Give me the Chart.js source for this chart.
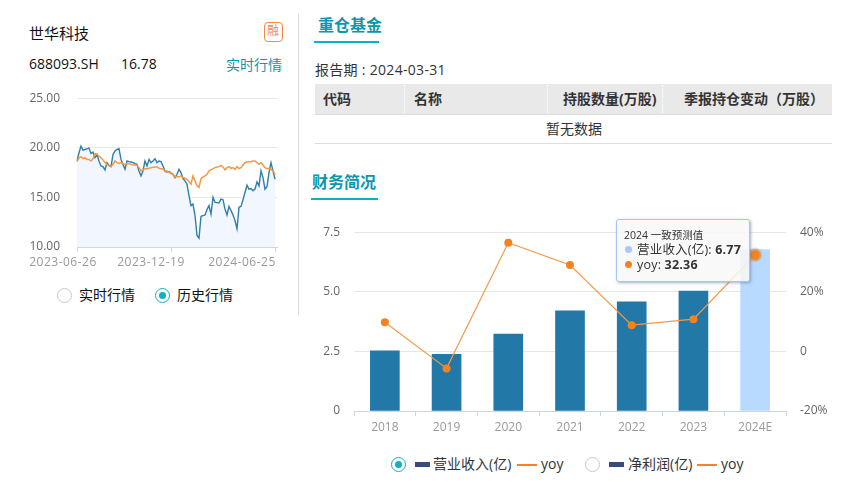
<!DOCTYPE html>
<html>
<head>
<meta charset="utf-8">
<script src="https://cdn.jsdelivr.net/npm/chart.js@4/dist/chart.umd.min.js"></script>
<style>
  html, body { margin: 0; padding: 0; background: #fff; }
  body { width: 842px; height: 483px; overflow: hidden; position: relative; font-family: "Open Sans", "Noto Sans CJK SC", sans-serif; color: #222; }
  .t { position: absolute; white-space: nowrap; line-height: 20px; font-size: 14px; }
  .b { position: absolute; }
  canvas { position: absolute; }
  .radio { position: absolute; width: 13px; height: 13px; border: 1px solid #c9c9c9; border-radius: 50%; background: #fff; }
  .radio.on { border-color: #0fb0c6; }
  .radio.on::after { content: ""; position: absolute; left: 3px; top: 3px; width: 7px; height: 7px; border-radius: 50%; background: #0fb0c6; }
  .head { font-size: 16px; font-weight: 700; color: #0a97ab; }
  .th { font-size: 14px; font-weight: 700; color: #333; top: 89px; }
  #tip { position: absolute; left: 616px; top: 219px; width: 134px; height: 63px; box-sizing: border-box; background: rgba(248,248,248,0.86); border: 1px solid #a9c5ee; border-radius: 3px; box-shadow: 1px 1px 3px rgba(90,110,150,.55); }
</style>
</head>
<body>
<div class="b" style="left:298px;top:14px;width:1px;height:301px;background:#ddd"></div>

<div class="t" style="left:29px;top:23px;font-size:15px;color:#111">世华科技</div>
<div class="b" style="left:264px;top:22px;width:17px;height:18px;border:1px solid #f58a3c;border-radius:4px"></div>
<div class="t" style="left:267px;top:21px;font-size:12px;color:#f0885a">融</div>
<div class="t" style="left:29px;top:54px;color:#111">688093.SH</div>
<div class="t" style="left:121px;top:54px;color:#111">16.78</div>
<div class="t" style="left:226px;top:55px;color:#0f96ad">实时行情</div>

<canvas id="chart-price" style="left:0;top:74px;width:298px;height:201px"></canvas>

<div class="radio" style="left:57px;top:288px"></div>
<div class="t" style="left:79px;top:285px;color:#111">实时行情</div>
<div class="radio on" style="left:155px;top:288px"></div>
<div class="t" style="left:177px;top:285px;color:#111">历史行情</div>

<div class="t head" style="left:318px;top:15px">重仓基金</div>
<div class="b" style="left:313px;top:42px;width:68px;height:1px;background:#ddd"></div>
<div class="b" style="left:314px;top:41px;width:65px;height:2px;background:#0fb0c6"></div>
<div class="t" style="left:315px;top:60px;color:#333;letter-spacing:.3px">报告期 : 2024-03-31</div>
<div class="b" style="left:315px;top:84px;width:517px;height:30px;background:#e9e9e9;border-bottom:1px solid #ddd"></div>
<div class="b" style="left:404px;top:85px;height:28px;border-left:1px dotted #fff"></div>
<div class="b" style="left:547px;top:85px;height:28px;border-left:1px dotted #fff"></div>
<div class="b" style="left:662px;top:85px;height:28px;border-left:1px dotted #fff"></div>
<div class="t th" style="left:323px">代码</div>
<div class="t th" style="left:414px">名称</div>
<div class="t th" style="left:563px">持股数量(万股)</div>
<div class="t th" style="left:684px">季报持仓变动（万股）</div>
<div class="t" style="left:546px;top:119px;color:#333">暂无数据</div>
<div class="b" style="left:315px;top:143px;width:517px;height:1px;background:#ddd"></div>

<div class="t head" style="left:312px;top:172px">财务简况</div>
<div class="b" style="left:311px;top:199px;width:69px;height:1px;background:#ddd"></div>
<div class="b" style="left:311px;top:198px;width:67px;height:2px;background:#0fb0c6"></div>

<canvas id="chart-fin" style="left:300px;top:211px;width:542px;height:229px"></canvas>

<div id="tip"></div>
<div class="t" style="left:624px;top:225px;font-size:10.5px;color:#333">2024 一致预测值</div>
<div class="b" style="left:625px;top:246px;width:7px;height:7px;border-radius:50%;background:#a6c8fb"></div>
<div class="t" style="left:637px;top:240px;font-size:12.5px;letter-spacing:.2px;color:#333">营业收入(亿): <b>6.77</b></div>
<div class="b" style="left:625px;top:261px;width:7px;height:7px;border-radius:50%;background:#f58220"></div>
<div class="t" style="left:637px;top:255px;font-size:12.5px;letter-spacing:.2px;color:#333">yoy: <b>32.36</b></div>

<div class="radio on" style="left:391px;top:457px"></div>
<div class="b" style="left:415px;top:462px;width:15px;height:5px;background:#3a4a80"></div>
<div class="t" style="left:433px;top:454px;color:#333">营业收入(亿)</div>
<div class="b" style="left:517px;top:464px;width:20px;height:2px;background:#f5822a"></div>
<div class="t" style="left:541px;top:454px;color:#333">yoy</div>
<div class="radio" style="left:585px;top:457px"></div>
<div class="b" style="left:609px;top:462px;width:15px;height:5px;background:#3a4a80"></div>
<div class="t" style="left:628px;top:454px;color:#333">净利润(亿)</div>
<div class="b" style="left:697px;top:464px;width:20px;height:2px;background:#f5822a"></div>
<div class="t" style="left:721px;top:454px;color:#333">yoy</div>

<script>
// ── DATA ────────────────────────────────────────────────────────────────────
const priceTicks = [25, 20, 15, 10];
const dateTickIndex = [0, 47, 99];
const dateTickLabels = ['2023-06-26', '2023-12-19', '2024-06-25'];
const stockPrice = [
  18.67, 19.5, 20.17, 19.77, 19.83, 19.9, 19.97, 19.43, 19.57, 19.0,
  19.33, 18.67, 18.17, 18.1, 17.77, 18.5, 18.23, 18.1, 19.33, 19.67,
  19.83, 19.9, 18.83, 18.33, 17.83, 18.67, 18.6, 18.57, 18.5, 18.4,
  18.33, 17.67, 17.17, 17.67, 18.67, 18.17, 18.83, 18.5, 18.67, 18.9,
  18.5, 18.67, 18.6, 18.17, 17.67, 17.57, 17.6, 17.43, 17.33, 17.0,
  17.33, 17.83, 17.5, 16.9, 16.67, 16.33, 15.17, 14.17, 14.33, 13.17,
  11.17, 10.9, 13.1, 13.17, 13.23, 13.77, 14.17, 13.33, 15.0, 14.5,
  14.47, 14.43, 14.83, 14.77, 13.83, 13.23, 14.1, 13.67, 13.23, 12.67,
  11.83, 14.0, 14.1, 14.77, 15.5, 16.23, 15.83, 15.9, 15.67, 15.83,
  16.57, 16.17, 17.67, 17.0, 15.83, 16.1, 17.5, 18.5, 17.67, 16.83
];
const indexPrice = [
  18.6, 19, 19.1, 18.9, 19, 18.83, 18.83, 18.67, 18.9, 19.43,
  19.33, 19.17, 19, 18.77, 18.5, 18.33, 18.17, 18.1, 18.33, 18.67,
  18.5, 18.43, 18.5, 18.4, 18.33, 18.4, 18.4, 18.33, 18.27, 18.27,
  18.23, 18, 17.67, 17.77, 17.9, 17.9, 17.93, 18, 18.03, 18.07,
  18.07, 17.93, 17.9, 17.9, 17.6, 17.67, 17.5, 17.5, 17.33, 17.07,
  17.07, 17.07, 17.17, 17, 16.93, 16.83, 16.57, 16.33, 17.17, 16.67,
  16.17, 16, 16.9, 17.07, 17.17, 17.33, 17.67, 17.77, 17.9, 18,
  18.07, 18.1, 18.23, 18.07, 17.77, 18, 18.1, 17.93, 18, 17.83,
  18.1, 17.9, 18, 18.27, 18.5, 18.57, 18.6, 18.6, 18.67, 18.67,
  18.5, 18.33, 18.5, 18.27, 18, 17.9, 17.93, 17.83, 17.67, 17.33
];

const years = ['2018', '2019', '2020', '2021', '2022', '2023', '2024E'];
const revenue = [2.52, 2.38, 3.23, 4.2, 4.58, 5.03, 6.77];
const yoy = [9.8, -5.7, 36.5, 29, 8.8, 10.8, 32.36];

// ── PRICE CHART ─────────────────────────────────────────────────────────────
const AXIS_COLOR = '#ccd6eb';
const GRID_COLOR = '#e6e6e6';
const FONT_FAMILY = '"Open Sans", "Noto Sans CJK SC"';

// one spare slot at the end so the lines stop just short of the grid
const priceLabels = [...stockPrice.map((_, i) => i), ''];

// labels sit left of their tick marks in the original, so drawn by hand
const dateLabelPlugin = {
  id: 'dateLabels',
  afterDraw(chart) {
    const { ctx, scales: { x } } = chart;
    const shift = [-14, -20, -33];
    ctx.save();
    ctx.font = '12px ' + FONT_FAMILY;
    ctx.fillStyle = '#999';
    ctx.textAlign = 'center';
    ctx.textBaseline = 'middle';
    ctx.letterSpacing = '0.5px';
    dateTickIndex.forEach((idx, i) => {
      ctx.fillText(dateTickLabels[i], x.getPixelForValue(idx) + shift[i], x.bottom + 16);
    });
    ctx.restore();
  }
};

new Chart(document.getElementById('chart-price').getContext('2d'), {
  type: 'line',
  data: {
    labels: priceLabels,
    datasets: [
      { data: indexPrice, borderColor: '#f7983c', borderWidth: 1.5, pointRadius: 0, tension: 0, fill: false },
      { data: stockPrice, borderColor: '#2f7fab', backgroundColor: '#f2f6fe', borderWidth: 1.4, pointRadius: 0, tension: 0, fill: 'start' }
    ]
  },
  options: {
    responsive: false, animation: false, events: [],
    layout: { padding: { left: 29, right: 21, top: 8, bottom: 28 } },
    plugins: { legend: { display: false }, tooltip: { enabled: false } },
    scales: {
      x: {
        type: 'category',
        afterBuildTicks: axis => { axis.ticks = dateTickIndex.map(i => ({ value: i })); },
        ticks: { display: false },
        grid: { drawOnChartArea: false, tickLength: 5, tickColor: AXIS_COLOR },
        border: { color: AXIS_COLOR },
        afterFit: axis => { axis.height = 0; }
      },
      y: {
        min: 10, max: 25,
        afterBuildTicks: axis => { axis.ticks = priceTicks.map(v => ({ value: v })); },
        ticks: { color: '#666', font: { size: 12, family: FONT_FAMILY }, padding: 17, callback: v => v.toFixed(2) },
        grid: { color: GRID_COLOR, drawTicks: false },
        border: { display: false },
        afterFit: axis => { axis.width = 48; }
      }
    }
  },
  plugins: [dateLabelPlugin]
});

// ── FINANCIAL CHART ─────────────────────────────────────────────────────────
const barColors = years.map((_, i) => i === years.length - 1 ? '#b8daff' : '#2278a6');

new Chart(document.getElementById('chart-fin').getContext('2d'), {
  data: {
    labels: years,
    datasets: [
      {
        type: 'line', data: yoy, yAxisID: 'y1', order: 1,
        borderColor: '#f59a4a', borderWidth: 1.2, tension: 0,
        pointBackgroundColor: '#f58220',
        pointBorderColor: years.map((_, i) => i === years.length - 1 ? 'rgba(190,185,175,.5)' : '#f58220'),
        pointBorderWidth: years.map((_, i) => i === years.length - 1 ? 3 : 0),
        pointRadius: years.map((_, i) => i === years.length - 1 ? 6 : 4)
      },
      { type: 'bar', data: revenue, yAxisID: 'y', order: 2, backgroundColor: barColors, barThickness: 29 }
    ]
  },
  options: {
    responsive: false, animation: false, events: [],
    layout: { padding: { left: 0, right: 0, top: 15, bottom: 0 } },
    plugins: { legend: { display: false }, tooltip: { enabled: false } },
    scales: {
      x: {
        ticks: { color: '#999', font: { size: 12, family: FONT_FAMILY }, padding: 4 },
        grid: { drawOnChartArea: false, tickLength: 5, tickColor: AXIS_COLOR, offset: true },
        border: { color: AXIS_COLOR },
        afterFit: axis => { axis.height = 29; }
      },
      y: {
        position: 'left', min: 0, max: 7.5,
        ticks: { stepSize: 2.5, color: '#666', font: { size: 12, family: FONT_FAMILY }, padding: 14, callback: v => v === 0 ? '0' : v.toFixed(1) },
        grid: { color: GRID_COLOR, drawTicks: false },
        border: { display: false },
        afterFit: axis => { axis.width = 54; }
      },
      y1: {
        position: 'right', min: -20, max: 40,
        ticks: { stepSize: 20, color: '#666', font: { size: 12, family: FONT_FAMILY }, padding: 14, callback: v => v === 0 ? '0' : v + '%' },
        grid: { drawOnChartArea: false, drawTicks: false },
        border: { display: false },
        afterFit: axis => { axis.width = 56; }
      }
    }
  }
});
</script>
</body>
</html>
